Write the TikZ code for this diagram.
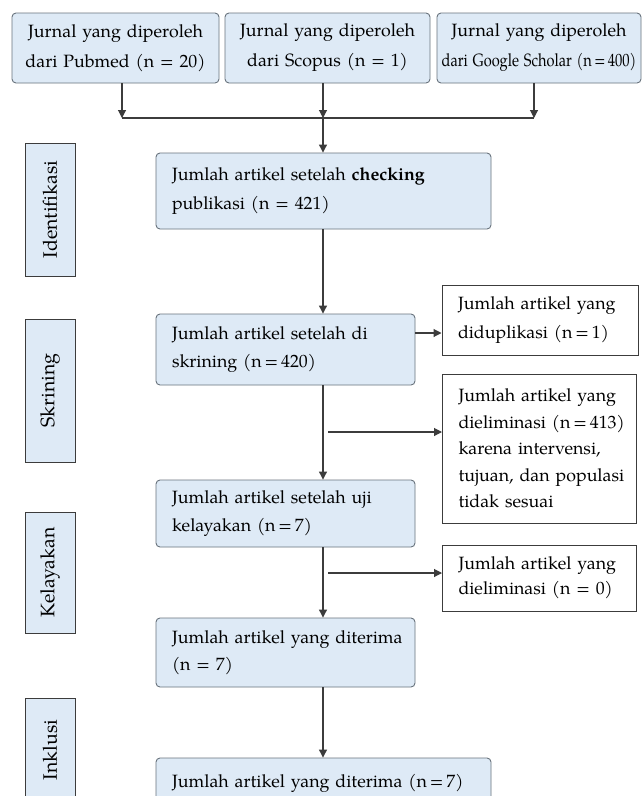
\documentclass[tikz,border=0pt]{standalone}
\usepackage{fontspec}
\setmainfont{TeX Gyre Pagella}
\usetikzlibrary{arrows.meta}
\definecolor{boxfill}{RGB}{222,234,246}
\definecolor{boxline}{RGB}{105,115,125}
\definecolor{darkline}{RGB}{60,60,60}
\begin{document}
\begin{tikzpicture}[x=1pt,y=-1pt,
  txt/.style={font=\fontsize{17.8}{28.5}\selectfont},
  bluebox/.style={txt,draw=boxline,fill=boxfill,rounded corners=4pt,line width=0.9pt,inner xsep=16pt,inner ysep=0pt,align=left},
  topbox/.style={draw=boxline,fill=boxfill,rounded corners=4pt,line width=0.9pt,inner xsep=2pt,inner ysep=0pt,align=center,font=\fontsize{17.8}{30}\selectfont},
  sidebox/.style={font=\fontsize{19.5}{24}\selectfont,draw=darkline,fill=boxfill,line width=1pt,rotate=90,inner sep=0pt},
  whitebox/.style={txt,draw=darkline,fill=white,line width=1pt,inner xsep=16pt,inner ysep=0pt,align=left},
  arr/.style={-{Triangle[length=8pt,width=8pt]},line width=1.1pt,draw=darkline},
  ln/.style={line width=1.1pt,draw=darkline}]
\useasboundingbox (0,0) rectangle (644,796);
\clip (0,0) rectangle (644,796);
\fill[white] (0,0) rectangle (644,796);

% top source boxes
\node[topbox,minimum width=207pt,text width=203pt,minimum height=70pt] (b1) at (115.5,48) {Jurnal yang diperoleh\\dari Pubmed (n = 20)};
\node[topbox,minimum width=205pt,text width=201pt,minimum height=70pt] (b2) at (327.5,48) {Jurnal yang diperoleh\\dari Scopus (n = 1)};
\node[topbox,minimum width=204pt,text width=200pt,minimum height=70pt] (b3) at (539,48) {Jurnal yang diperoleh\\\scalebox{0.82}[1]{dari Google Scholar (n\,=\,400)}};

% side labels
\node[sidebox,minimum width=133pt,minimum height=50pt] (s1) at (50,209.5) {Identifikasi};
\node[sidebox,minimum width=143pt,minimum height=50pt] (s2) at (50,390.5) {Skrining};
\node[sidebox,minimum width=121pt,minimum height=50pt] (s3) at (50,572.5) {Kelayakan};
\node[sidebox,minimum width=104pt,minimum height=50pt] (s4) at (50,750) {Inklusi};

% main column
\node[bluebox,minimum width=335pt,text width=303pt,minimum height=76pt] (b4) at (323.5,191) {Jumlah artikel setelah \textbf{checking}\\publikasi (n = 421)};
\node[bluebox,minimum width=259pt,text width=227pt,minimum height=71pt] (b5) at (285.5,349.5) {Jumlah artikel setelah di\\skrining (n\,=\,420)};
\node[bluebox,minimum width=259pt,text width=227pt,minimum height=67pt] (b6) at (285.5,513.5) {Jumlah artikel setelah uji\\kelayakan (n\,=\,7)};
\node[bluebox,minimum width=259pt,text width=227pt,minimum height=69pt,font=\fontsize{17.8}{27}\selectfont] (b7) at (285.5,652.5) {\mbox{Jumlah artikel yang diterima}\\(n = 7)};
\node[bluebox,minimum width=335pt,text width=303pt,minimum height=50pt] (b8) at (323.5,783) {Jumlah artikel yang diterima (n\,=\,7)};

% right boxes
\node[whitebox,minimum width=196pt,text width=164pt,minimum height=70pt] (ba) at (540,320) {\mbox{Jumlah artikel yang}\\\mbox{diduplikasi (n\,=\,1)}};
\node[whitebox,minimum width=194pt,text width=162pt,minimum height=149pt,font=\fontsize{17.8}{26.5}\selectfont] (bb) at (539.5,448.5) {\mbox{Jumlah artikel yang}\\\mbox{dieliminasi (n\,=\,413)}\\\mbox{karena intervensi,}\\\mbox{tujuan, dan populasi}\\\mbox{tidak sesuai}};
\node[whitebox,minimum width=194pt,text width=162pt,minimum height=66pt,font=\fontsize{17.8}{25}\selectfont] (bc) at (539.5,578) {\mbox{Jumlah artikel yang}\\\mbox{dieliminasi (n = 0)}};

% junction coordinates
\coordinate (j1) at (122,118);
\coordinate (j2) at (323,118);
\coordinate (j3) at (534,118);
\coordinate (ya) at (0,333);
\coordinate (f1) at (328,432);
\coordinate (f2) at (328,573);

\draw[arr] (j1 |- b1.south) -- (j1);
\draw[arr] (j2 |- b2.south) -- (j2);
\draw[arr] (j3 |- b3.south) -- (j3);
\draw[ln] (j1) -- (j3);
\draw[arr] (j2) -- (j2 |- b4.north);
\draw[arr] (j2 |- b4.south) -- (j2 |- b5.north);
\draw[arr] (b5.east |- ya) -- (ba.west |- ya);
\draw[arr] (j2 |- b5.south) -- (j2 |- b6.north);
\draw[arr] (f1) -- (bb.west |- f1);
\draw[arr] (j2 |- b6.south) -- (j2 |- b7.north);
\draw[arr] (f2) -- (bc.west |- f2);
\draw[arr] (j2 |- b7.south) -- (j2 |- b8.north);
\end{tikzpicture}
\end{document}
